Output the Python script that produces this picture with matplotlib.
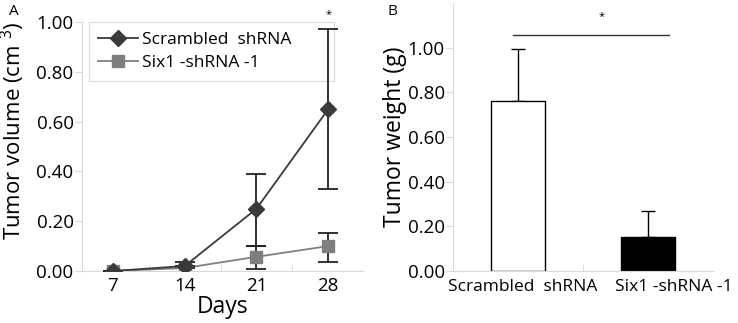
import matplotlib.pyplot as plt
from matplotlib.lines import Line2D
import numpy as np

plt.rcParams['font.family'] = ['Open Sans', 'DejaVu Sans']
plt.rcParams['mathtext.fontset'] = 'custom'
plt.rcParams['mathtext.rm'] = 'Open Sans'

# panel A data
days = [7, 14, 21, 28]
scrambled_vol = [0.00, 0.02, 0.25, 0.65]
scrambled_err_lo = [0.00, 0.00, 0.15, 0.32]
scrambled_err_hi = [0.00, 0.017, 0.14, 0.32]
six1_vol = [0.00, 0.012, 0.057, 0.10]
six1_err_lo = [0.00, 0.00, 0.047, 0.064]
six1_err_hi = [0.00, 0.00, 0.043, 0.051]

# panel B data
groups = ['Scrambled  shRNA', 'Six1 -shRNA -1']
weights = [0.764, 0.151]
weight_err = [0.23, 0.117]

axis_col = '#d9d9d9'
dark = '#3a3a3a'
grey = '#7f7f7f'

fig = plt.figure(figsize=(7.38, 3.23), dpi=100)

# ---- panel A ----
ax1 = fig.add_axes([0.111, 0.161, 0.381, 0.771])
ax1.errorbar(days, scrambled_vol, yerr=[scrambled_err_lo, scrambled_err_hi], color=dark,
             marker='D', markersize=8.5, lw=1.3, ecolor='#222222', elinewidth=1.3,
             capsize=7.5, capthick=1.3, zorder=3)
ax1.errorbar(days, six1_vol, yerr=[six1_err_lo, six1_err_hi], color=grey,
             marker='s', markersize=9, lw=1.3, ecolor='#222222', elinewidth=1.3,
             capsize=7.5, capthick=1.3, zorder=2)
ax1.set_xlim(3.97, 31.4)
ax1.set_ylim(0, 1.0)
ax1.set_xticks(days)
ax1.set_xticks([10.5, 17.5, 24.5], minor=True)
ax1.set_yticks(np.arange(0, 1.01, 0.2))
ax1.set_yticklabels(['%.2f' % v for v in np.arange(0, 1.01, 0.2)])
ax1.tick_params(axis='both', which='both', labelsize=13.5, length=0, pad=4)
ax1.tick_params(axis='y', length=5, color=axis_col, pad=1)
ax1.tick_params(axis='x', which='minor', length=5, direction='in', color=axis_col)
ax1.set_xlabel('Days', fontsize=16.5, labelpad=0)
ax1.set_ylabel('Tumor volume (cm $^{3}$)', fontsize=16)
ax1.yaxis.set_label_coords(-0.195, 0.565)
for s in ['top', 'right']:
    ax1.spines[s].set_visible(False)
for s in ['left', 'bottom']:
    ax1.spines[s].set_color(axis_col)
handles = [Line2D([], [], color=dark, marker='D', markersize=8.5, lw=1.3),
           Line2D([], [], color=grey, marker='s', markersize=9, lw=1.3)]
leg = ax1.legend(handles, groups, loc='upper left', bbox_to_anchor=(0.025, 0.77, 0.872, 0.23),
                 mode='expand', borderaxespad=0, fontsize=12.5,
                 handlelength=2.3, handletextpad=0.2, borderpad=0.55, labelspacing=0.42,
                 fancybox=False, framealpha=1)
leg.get_frame().set_edgecolor(axis_col)
leg.get_frame().set_linewidth(0.8)
leg.set_zorder(1)
ax1.text(28, 1.03, '*', ha='center', va='center', fontsize=8, clip_on=False)
fig.text(0.012, 0.965, 'A', fontsize=11, va='center')

# ---- panel B ----
ax2 = fig.add_axes([0.614, 0.161, 0.352, 0.829])
pos = np.arange(len(groups))
ax2.bar(pos, weights, width=0.42, color=['white', 'black'], edgecolor='black', lw=1.0, zorder=2)
ax2.errorbar(pos, weights, yerr=[[0, 0], weight_err], fmt='none', ecolor='black',
             elinewidth=1.0, capsize=5, capthick=1.0, zorder=1)
ax2.set_xlim(-0.5, 1.5)
ax2.set_ylim(0, 1.2)
ax2.set_yticks(np.arange(0, 1.01, 0.2))
ax2.set_yticklabels(['%.2f' % v for v in np.arange(0, 1.01, 0.2)])
ax2.set_xticks([])
ax2.set_xticks([0.5], minor=True)
ax2.tick_params(axis='both', which='both', labelsize=13.5, length=0, pad=4)
ax2.tick_params(axis='y', length=5, color=axis_col, pad=1)
ax2.tick_params(axis='x', which='minor', length=5, direction='in', color=axis_col)
for x, g in zip([0.035, 1.2], groups):
    ax2.text(x, -0.035, g, ha='center', va='top', fontsize=12.5)
ax2.set_ylabel('Tumor weight (g)', fontsize=16.5)
ax2.yaxis.set_label_coords(-0.177, 0.5)
for s in ['top', 'right']:
    ax2.spines[s].set_visible(False)
for s in ['left', 'bottom']:
    ax2.spines[s].set_color(axis_col)
ax2.plot([-0.04, 1.16], [1.058, 1.058], color='#333333', lw=1.0)
ax2.text(0.64, 1.14, '*', ha='center', va='center', fontsize=8)
fig.text(0.525, 0.965, 'B', fontsize=11, va='center')

fig.savefig('out.png', dpi=100)
